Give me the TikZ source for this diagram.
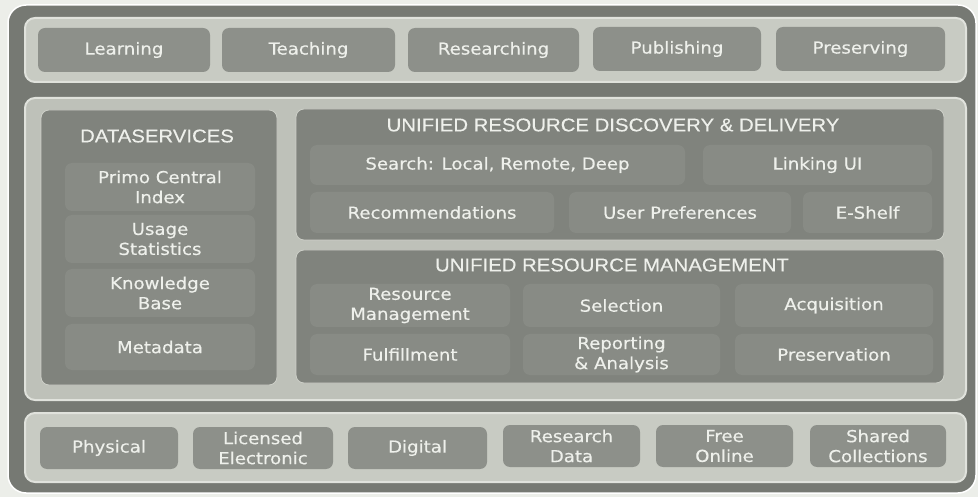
\documentclass[tikz,border=0pt]{standalone}
\usepackage{fontspec}
\setmainfont{DejaVu Sans}[FakeStretch=1.1,FakeBold=0.4]
\newfontfamily\titlefont{Liberation Sans}[FakeStretch=1.1,FakeBold=0.3]
\definecolor{paper}{RGB}{236,238,233}
\definecolor{framegray}{RGB}{118,121,115}
\definecolor{bandgray}{RGB}{200,203,195}
\definecolor{midgray}{RGB}{190,193,185}
\definecolor{bandedge}{RGB}{224,226,220}
\definecolor{panelgray}{RGB}{128,131,125}
\definecolor{paneledge}{RGB}{205,207,200}
\definecolor{itemgray}{RGB}{141,144,138}
\definecolor{subgray}{RGB}{136,139,133}
\definecolor{textwhite}{RGB}{238,240,235}
\tikzset{
  band/.style={fill=bandgray, draw=bandedge, line width=2pt, rounded corners=10pt},
  panel/.style={fill=panelgray, draw=paneledge, line width=.8pt, rounded corners=8pt, inner sep=0pt},
  item/.style={fill=itemgray, rounded corners=7pt, inner sep=0pt, align=center,
    text=textwhite, font=\fontsize{16.5}{20}\selectfont},
  subitem/.style={item, fill=subgray},
  ptitle/.style={text=textwhite, font=\titlefont\fontsize{18.5}{20}\selectfont, inner sep=0pt}
}
\begin{document}
\begin{tikzpicture}[x=1pt,y=-1pt]
        \useasboundingbox (0,0) rectangle (978,497);
        \fill[paper] (0,0) rectangle (978,497);
        \draw[fill=framegray, draw=white, line width=1.5pt, rounded corners=18pt] (8,5) rectangle (976,493);
        %Activities
        \draw[band] (25,18) rectangle (966,82);
        \node[item, minimum width=172pt, minimum height=44pt] (learning) at (124,50) {Learning};
        \node[item, minimum width=173pt, minimum height=44pt] (teaching) at (308.5,50) {Teaching};
        \node[item, minimum width=171pt, minimum height=44pt] (researching) at (493.5,50) {Researching};
        \node[item, minimum width=168pt, minimum height=44pt] (publishing) at (677,49) {Publishing};
        \node[item, minimum width=169pt, minimum height=44pt] (preserving) at (860.5,49) {Preserving};
        %Services
        \draw[band, fill=midgray] (25,98) rectangle (966,400);
        \node[panel, minimum width=236pt, minimum height=275pt] (dataserv) at (159,247.5) {};
        \node[ptitle] (dataservtitle) at (157,136) {DATASERVICES};
        \node[subitem, minimum width=190pt, minimum height=48pt] (primo) at (160,187) {Primo Central\\Index};
        \node[subitem, minimum width=190pt, minimum height=48pt] (usage) at (160,239) {Usage\\Statistics};
        \node[subitem, minimum width=190pt, minimum height=48pt] (knowledge) at (160,293) {Knowledge\\Base};
        \node[subitem, minimum width=190pt, minimum height=46pt] (metadata) at (160,347) {Metadata};
        %Discovery
        \node[panel, minimum width=648pt, minimum height=131pt] (discovery) at (620,174.5) {};
        \node[ptitle] (discoverytitle) at (613,125) {UNIFIED RESOURCE DISCOVERY \& DELIVERY};
        \node[subitem, minimum width=375pt, minimum height=40pt] (search) at (497.5,165) {Search: Local, Remote, Deep};
        \node[subitem, minimum width=229pt, minimum height=40pt] (linking) at (817.5,165) {Linking UI};
        \node[subitem, minimum width=244pt, minimum height=41pt] (recommend) at (432,212.5) {Recommendations};
        \node[subitem, minimum width=222pt, minimum height=41pt] (userpref) at (680,212.5) {User Preferences};
        \node[subitem, minimum width=129pt, minimum height=41pt] (eshelf) at (867.5,212.5) {E-Shelf};
        %Management
        \node[panel, minimum width=648pt, minimum height=133pt] (management) at (620,316.5) {};
        \node[ptitle] (managementtitle) at (612,265) {UNIFIED RESOURCE MANAGEMENT};
        \node[subitem, minimum width=200pt, minimum height=43pt] (resmgmt) at (410,305.5) {Resource\\Management};
        \node[subitem, minimum width=197pt, minimum height=43pt] (selection) at (621.5,305.5) {Selection};
        \node[subitem, minimum width=198pt, minimum height=43pt] (acquisition) at (834,305.5) {Acquisition};
        \node[subitem, minimum width=200pt, minimum height=41pt] (fulfillment) at (410,354.5) {Fulfillment};
        \node[subitem, minimum width=197pt, minimum height=41pt] (reporting) at (621.5,354.5) {Reporting\\\& Analysis};
        \node[subitem, minimum width=198pt, minimum height=41pt] (preservation) at (834,354.5) {Preservation};
        %Content
        \draw[band] (25,413) rectangle (966,482);
        \node[item, minimum width=138pt, minimum height=42pt] (physical) at (109,448) {Physical};
        \node[item, minimum width=140pt, minimum height=42pt] (licensed) at (263,448) {Licensed\\Electronic};
        \node[item, minimum width=139pt, minimum height=42pt] (digital) at (417.5,448) {Digital};
        \node[item, minimum width=137pt, minimum height=42pt] (resdata) at (571.5,446) {Research\\Data};
        \node[item, minimum width=137pt, minimum height=42pt] (freeonline) at (724.5,446) {Free\\Online};
        \node[item, minimum width=136pt, minimum height=42pt] (shared) at (878,446) {Shared\\Collections};
    \end{tikzpicture}
\end{document}
